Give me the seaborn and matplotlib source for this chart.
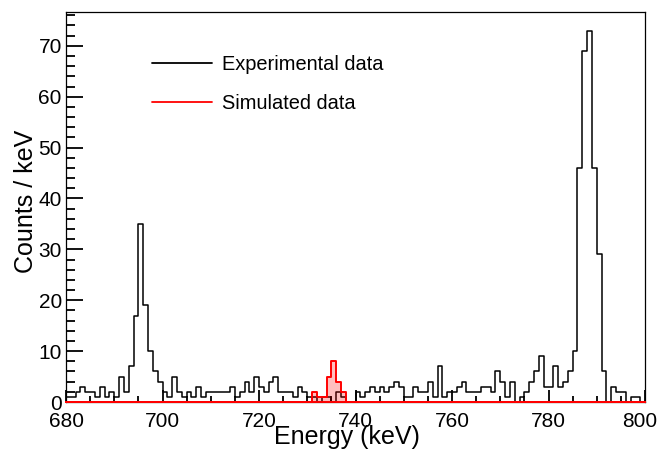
import numpy as np
import pandas as pd
import matplotlib
matplotlib.use("Agg")
import matplotlib.pyplot as plt
from matplotlib.lines import Line2D
from matplotlib.ticker import MultipleLocator
from matplotlib.transforms import ScaledTranslation
import seaborn as sns

# ---- data (1 keV bins, 680..800 keV) ----
bin_start = 680
bin_stop = 800
exp_counts = [
    1, 1, 2, 3, 2, 2, 1, 3, 1, 2,      # 680-689
    1, 5, 2, 7, 17, 35, 19, 10, 6, 4,  # 690-699
    2, 1, 5, 2, 1, 2, 1, 3, 1, 2,      # 700-709
    2, 2, 2, 2, 3, 1, 2, 4, 2, 5,      # 710-719
    3, 2, 4, 5, 2, 2, 2, 1, 3, 2,      # 720-729
    1, 1, 0, 1, 1, 0, 2, 1, 0, 0,      # 730-739
    2, 1, 2, 3, 2, 3, 2, 3, 4, 3,      # 740-749
    1, 1, 3, 2, 2, 4, 1, 7, 1, 2,      # 750-759
    2, 3, 4, 2, 2, 2, 3, 3, 2, 6,      # 760-769
    4, 1, 4, 0, 1, 2, 4, 6, 9, 3,      # 770-779
    3, 7, 3, 4, 6, 10, 46, 69, 73, 46, # 780-789
    29, 6, 0, 3, 2, 2, 0, 1, 1, 0,     # 790-799
]
sim_counts = [0] * 120
sim_peak_bins = [731, 732, 733, 734, 735, 736, 737]
sim_peak_vals = [2, 1, 1, 5, 8, 4, 2]
for b, v in zip(sim_peak_bins, sim_peak_vals):
    sim_counts[b - bin_start] = v

legend_labels = ["Experimental data", "Simulated data"]
x_label = "Energy (keV)"
y_label = "Counts / keV"

centers = np.arange(bin_start, bin_stop) + 0.5
df = pd.DataFrame({"energy": centers, "exp": exp_counts, "sim": sim_counts})

# ---- style ----
sns.set_style("ticks")
plt.rcParams["font.family"] = ["Liberation Sans", "DejaVu Sans"]
for key in ("text.color", "axes.labelcolor", "xtick.color", "ytick.color", "axes.edgecolor"):
    plt.rcParams[key] = "black"

fig = plt.figure(figsize=(6.59, 4.49), dpi=100)
ax = fig.add_axes([66 / 659, 1 - 402 / 449, (645 - 66) / 659, (402 - 12) / 449])

sns.histplot(data=df, x="energy", weights="exp", binwidth=1,
             binrange=(bin_start, bin_stop), element="step",
             fill=False, color="black", linewidth=1.1, ax=ax)
sns.histplot(data=df, x="energy", weights="sim", binwidth=1,
             binrange=(bin_start, bin_stop), element="step",
             fill=True, color="red", alpha=0.25, linewidth=1.4,
             clip_on=False, zorder=3, ax=ax)

ax.set_xlim(bin_start, bin_stop)
ax.set_ylim(0, 1.05 * max(exp_counts))

ax.xaxis.set_major_locator(MultipleLocator(20))
ax.xaxis.set_minor_locator(MultipleLocator(5))
ax.yaxis.set_major_locator(MultipleLocator(10))
ax.yaxis.set_minor_locator(MultipleLocator(2))

ax.tick_params(axis="x", which="major", direction="in", length=8.4, width=1.3,
               labelsize=15, pad=7.5, top=False)
ax.tick_params(axis="x", which="minor", direction="in", length=4.2, width=1.3, top=False)
ax.tick_params(axis="y", which="major", direction="in", length=12.0, width=1.3,
               labelsize=15, pad=3, right=False)
ax.tick_params(axis="y", which="minor", direction="in", length=6.5, width=1.3, right=False)

for s in ax.spines.values():
    s.set_linewidth(0.9)
    s.set_color("black")

ax.set_xlabel(x_label, fontsize=18)
ax.set_ylabel(y_label, fontsize=18)
ax.xaxis.set_label_coords(0.485, -0.060)
ax.yaxis.set_label_coords(-0.048, 0.515)

handles = [Line2D([], [], color="black", lw=1.3), Line2D([], [], color="red", lw=1.3)]
ax.legend(handles, legend_labels, loc="upper left", bbox_to_anchor=(0.1485, 0.89),
          frameon=False, fontsize=14.4, handlelength=3.0, handletextpad=0.5,
          labelspacing=1.0, borderpad=0, borderaxespad=0)

# keep the last x tick label inside the canvas, as in the reference
fig.canvas.draw()
last = ax.xaxis.get_major_ticks()[-1]
for t in ax.xaxis.get_major_ticks():
    if abs(t.get_loc() - bin_stop) < 1e-6:
        last = t
last.label1.set_transform(last.label1.get_transform()
                          + ScaledTranslation(-5 / 100, 0, fig.dpi_scale_trans))

fig.savefig("out.png", dpi=100)
